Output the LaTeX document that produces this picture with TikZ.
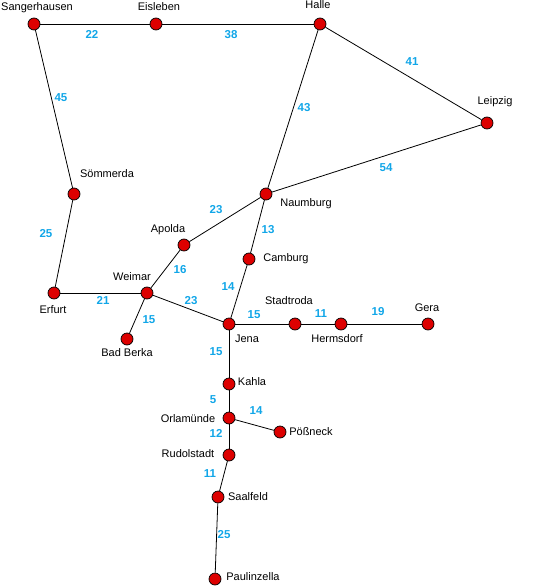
\documentclass[tikz,border=0pt]{standalone}
\usepackage{fontspec}
\setmainfont{Liberation Sans}
\usepackage{xcolor}
\usetikzlibrary{positioning, calc}
\definecolor{mapRed}{HTML}{DD0000}
\definecolor{mapBlue}{HTML}{11A6E8}
\definecolor{mapInk}{HTML}{000000}
\tikzset{
  stop/.style={circle, draw=mapInk, line width=0.7pt, fill=mapRed,
               minimum size=12pt, inner sep=0pt},
  townlbl/.style={anchor=base, inner sep=0pt, text=mapInk,
                  font=\fontsize{11}{13}\selectfont},
  km/.style={anchor=base, inner sep=0pt, text=mapBlue,
             font=\fontsize{11.5}{13}\selectfont\bfseries},
  trackline/.style={draw=mapInk, line width=0.8pt},
}
% station: name, centre, label base, label text
\newcommand{\station}[4]{%
  \node[stop] (#1) at (#2) {};
  \node[townlbl] (#1-l) at (#3) {#4};
}
% track: from, to, label base, distance
\newcommand{\track}[4]{%
  \draw[trackline] (#1) -- (#2);
  \node[km] (#1-#2) at (#3) {#4};
}

\begin{document}
\begin{tikzpicture}[x=1pt, y=-1pt]
    \useasboundingbox (0,0) rectangle (539,586);
    \station{sang}{34,24}{37,11}{Sangerhausen}
    \station{eisl}{156,24}{159,11}{Eisleben}
    \station{hall}{320,24}{318,9}{Halle}
    \station{leip}{487,123}{495,104}{Leipzig}
    \station{soem}{74,194}{107,177}{Sömmerda}
    \station{naum}{266,194}{306,206}{Naumburg}
    \station{apol}{184,245}{168,232}{Apolda}
    \station{camb}{249,259}{286,261}{Camburg}
    \station{erfu}{54,293}{53,313}{Erfurt}
    \station{weim}{147,293}{132,280}{Weimar}
    \station{berk}{127,339}{127,356}{Bad Berka}
    \station{jena}{229,324}{247,342}{Jena}
    \station{stad}{295,324}{289,304}{Stadtroda}
    \station{herm}{341,324}{337,342}{Hermsdorf}
    \station{gera}{428,324}{427,311}{Gera}
    \station{kahl}{229,384}{252,385}{Kahla}
    \station{orla}{229,418}{188,422}{Orlamünde}
    \station{poes}{280,432}{311,435}{Pößneck}
    \station{rudo}{229,455}{188,457}{Rudolstadt}
    \station{saal}{218,497}{248,500}{Saalfeld}
    \station{paul}{215,579}{253,580}{Paulinzella}

    \track{sang}{eisl}{92,38}{22}
    \track{eisl}{hall}{231,38}{38}
    \track{sang}{soem}{61,101}{45}
    \track{hall}{leip}{412,66}{41}
    \track{hall}{naum}{304,111}{43}
    \track{leip}{naum}{386,171}{54}
    \track{soem}{erfu}{46,237}{25}
    \track{apol}{naum}{216,213}{23}
    \track{naum}{camb}{268,233}{13}
    \track{weim}{apol}{180,273}{16}
    \track{camb}{jena}{228,290}{14}
    \track{erfu}{weim}{103,304}{21}
    \track{weim}{jena}{191,304}{23}
    \track{weim}{berk}{149,323}{15}
    \track{jena}{stad}{254,318}{15}
    \track{stad}{herm}{321,317}{11}
    \track{herm}{gera}{378,315}{19}
    \track{jena}{kahl}{216,355}{15}
    \track{kahl}{orla}{213,403}{5}
    \track{orla}{poes}{256,414}{14}
    \track{orla}{rudo}{216,437}{12}
    \track{rudo}{saal}{210,477}{11}
    \track{saal}{paul}{224,538}{25}
  \end{tikzpicture}
\end{document}
